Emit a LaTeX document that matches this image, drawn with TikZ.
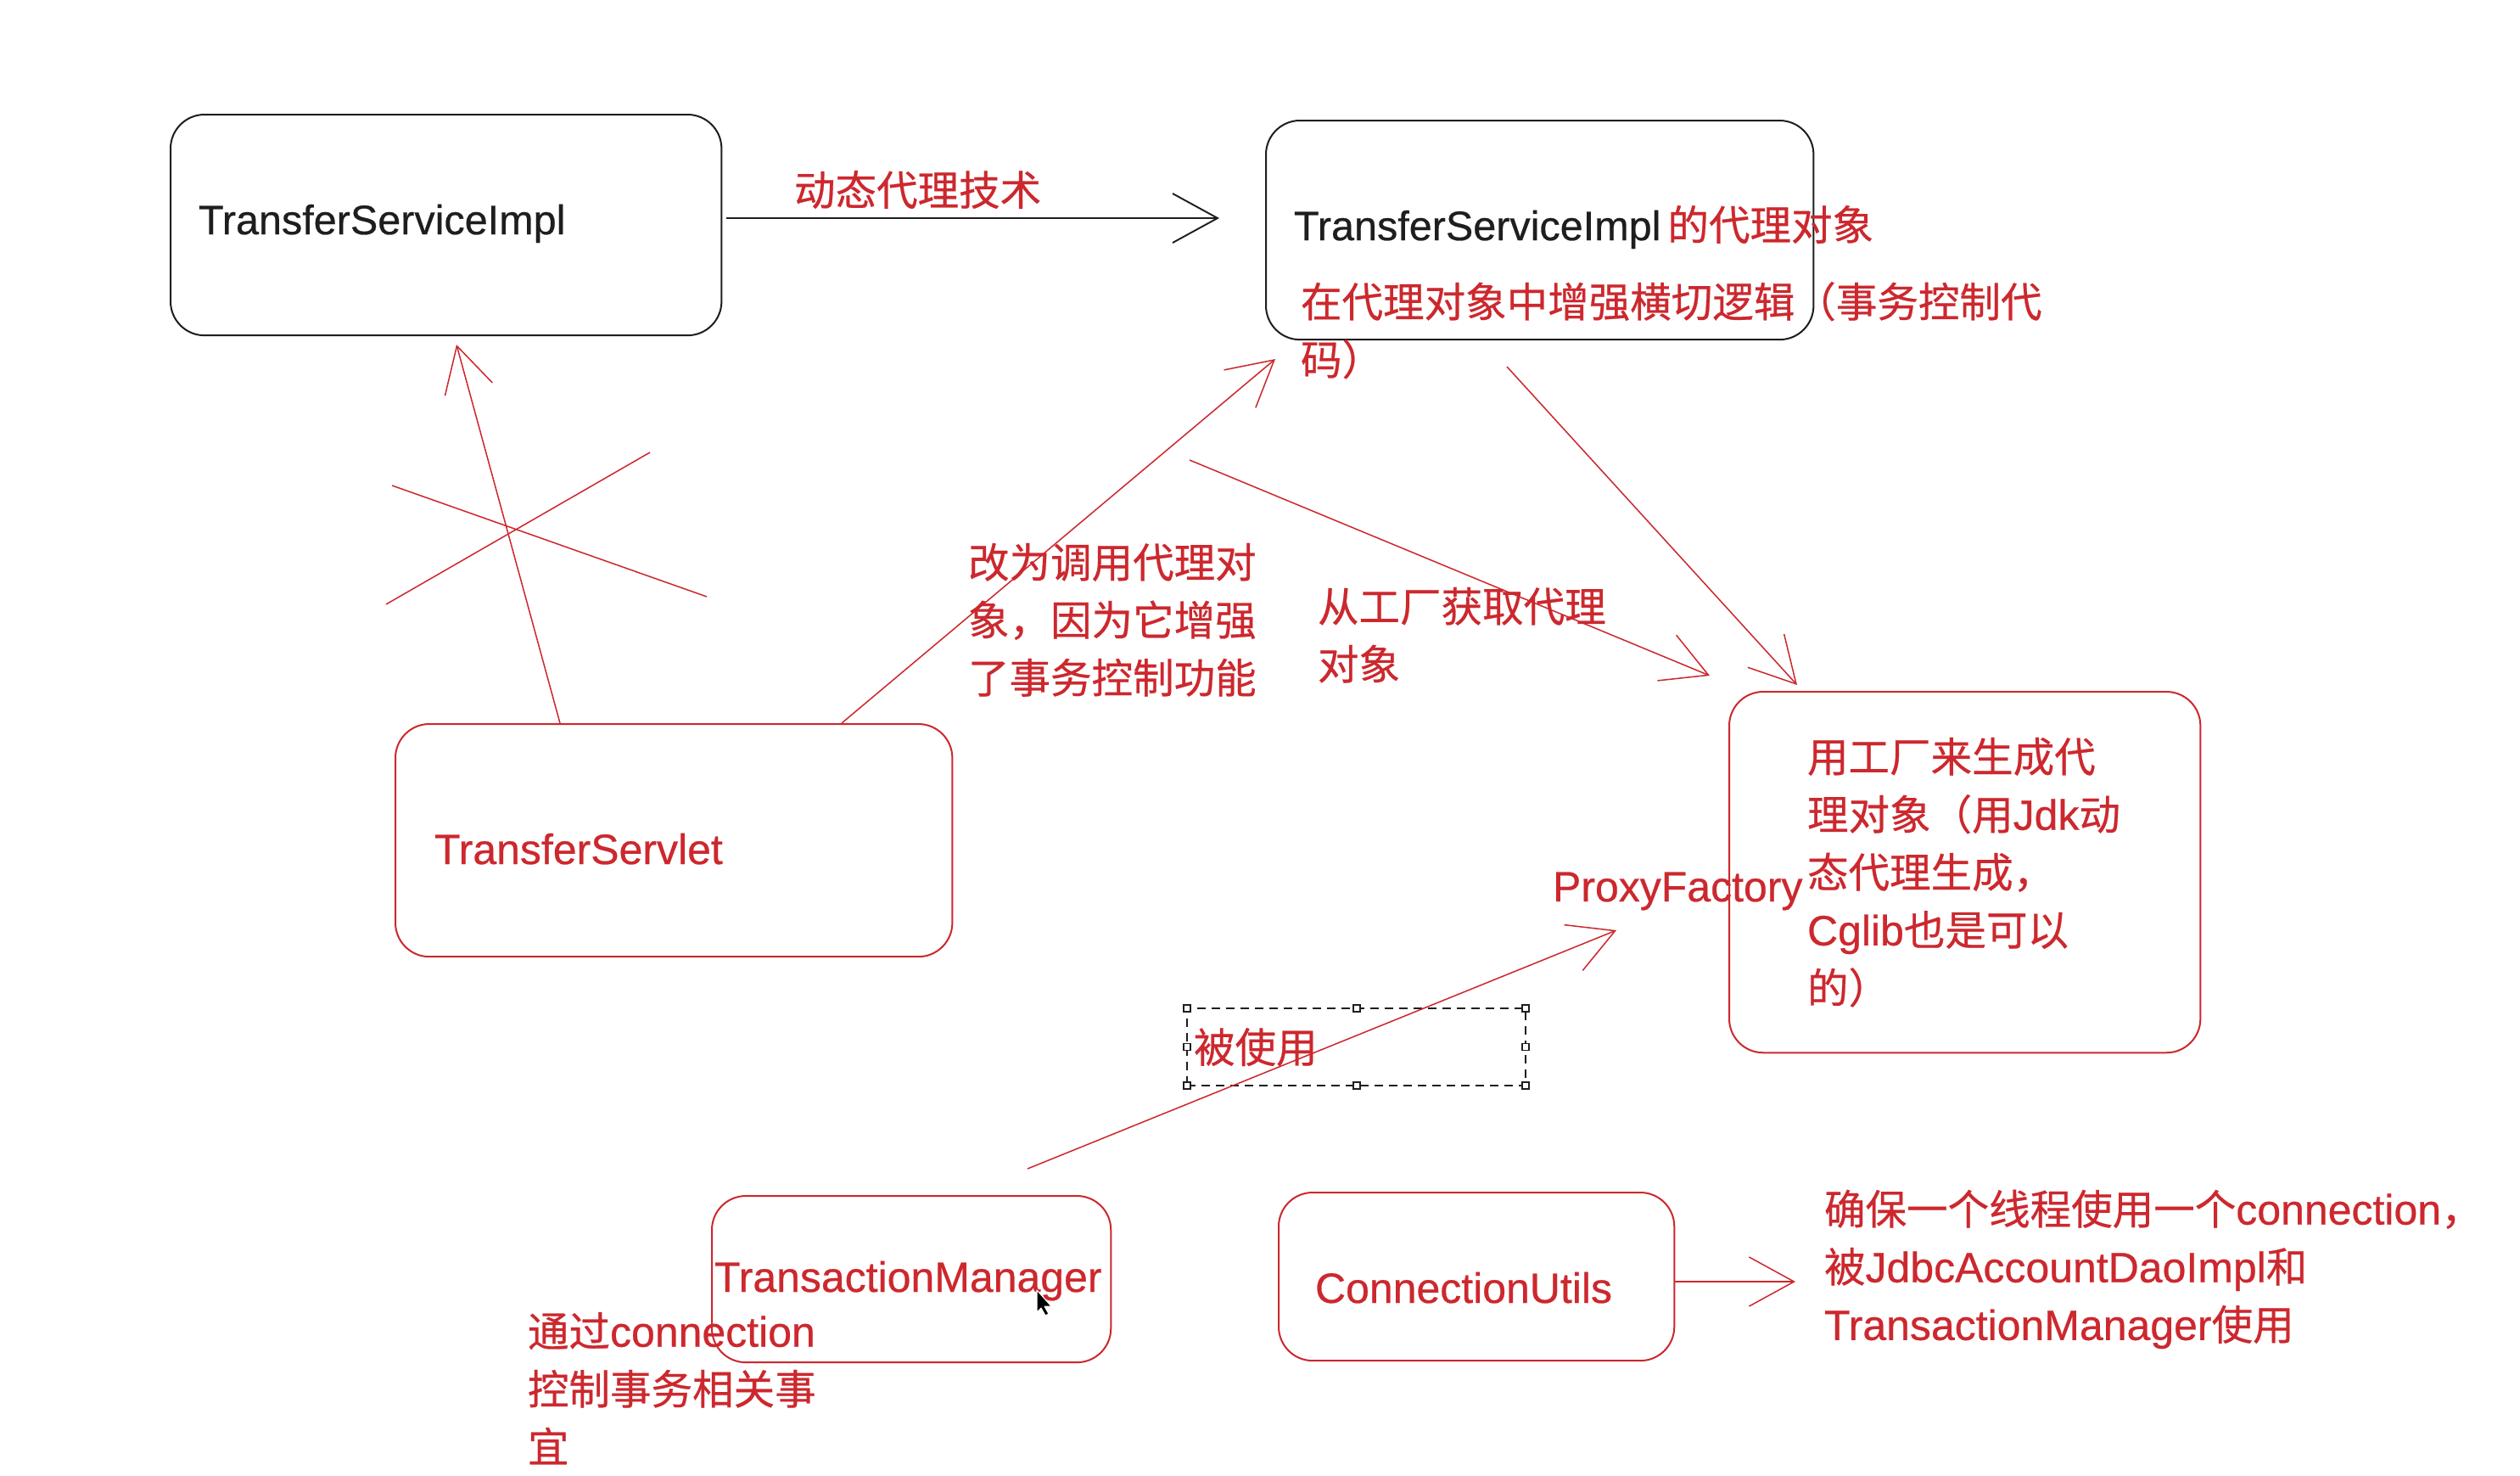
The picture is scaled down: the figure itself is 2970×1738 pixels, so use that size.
\documentclass[tikz,border=0pt]{standalone}
\usepackage{fontspec}
\setmainfont{Liberation Sans}[Scale=1.03,FakeBold=0.5]
\newfontfamily\cjk{Noto Sans CJK SC}[FakeBold=0.5]
\usetikzlibrary{arrows.meta}
\definecolor{rd}{RGB}{204,40,46}
\definecolor{bk}{RGB}{30,30,30}
\newcommand\zh[1]{{\cjk #1}}
\newcommand\narrowlat[1]{{\fontsize{13.4pt}{19.35pt}\selectfont #1}}
\newcommand\fstrut{\rule{0pt}{1.1em}}
\begin{document}
\begin{tikzpicture}[x=0.01cm,y=-0.01cm,
  box/.style={draw=rd, line width=0.57pt, rounded corners=0.4cm, inner sep=0pt, outer sep=0pt, anchor=north west},
  blackbox/.style={box, draw=bk},
  txt/.style={inner sep=0pt, outer sep=0pt, font=\fontsize{13.8pt}{19.35pt}\selectfont, text=rd, anchor=base west},
  mtxt/.style={txt, align=left, anchor=north west},
  conn/.style={draw=rd, line width=0.43pt, -{Straight Barb[length=5.3mm, width=5.8mm]}},
  dashbox/.style={draw=bk, line width=0.5pt, dash pattern=on 0.1cm off 0.07cm, inner sep=0pt, outer sep=0pt, anchor=north west},
  handle/.style={draw=bk, fill=white, line width=0.5pt, minimum size=0.08cm, inner sep=0pt},
  strike/.style={draw=rd, line width=0.43pt}]
\useasboundingbox[fill=white] (0,0) rectangle (2970,1738);

% boxes
\node[blackbox, minimum width=6.49cm, minimum height=2.60cm] (A) at (201,135) {};
\node[blackbox, minimum width=6.45cm, minimum height=2.58cm] (B) at (1492,142) {};
\node[box, minimum width=6.56cm, minimum height=2.74cm] (S) at (466,853) {};
\node[box, minimum width=5.55cm, minimum height=4.25cm] (P) at (2038,815) {};
\node[box, minimum width=4.70cm, minimum height=1.96cm] (TM) at (839,1409) {};
\node[box, minimum width=4.66cm, minimum height=1.98cm] (CU) at (1507,1405) {};
\node[dashbox, minimum width=3.99cm, minimum height=0.91cm] (used) at (1399,1188) {};
\foreach \a [count=\i] in {north west,north,north east,west,east,south west,south,south east}
  \node[handle] (h\i) at (used.\a) {};

% texts
\node[txt, text=bk] (Atxt) at (234,276) {\narrowlat{TransferServiceImpl}};
\node[txt] (dyn) at (936,242) {\zh{动态代理技术}};
\node[txt] (Btxt) at (1525,283) {{\color{bk}\narrowlat{TransferServiceImpl}}\hspace{0.08cm}\zh{的代理对象}};
\node[mtxt] (Bnote) at (1533,318.65) {\fstrut\zh{在代理对象中增强横切逻辑（事务控制代}\\\zh{码）}};
\node[mtxt] (callnote) at (1141,625.65) {\fstrut\zh{改为调用代理对}\\\zh{象，因为它增强}\\\zh{了事务控制功能}};
\node[mtxt] (getnote) at (1553,677.65) {\fstrut\zh{从工厂获取代理}\\\zh{对象}};
\node[txt] (Stxt) at (512,1018) {TransferServlet};
\node[txt] (PFtxt) at (1830,1062) {ProxyFactory};
\node[mtxt] (Pnote) at (2130,854.65) {\fstrut\zh{用工厂来生成代}\\\zh{理对象（用}Jdk\zh{动}\\\zh{态代理生成，}\\Cglib\zh{也是可以}\\\zh{的）}};
\node[txt] (usedtxt) at (1407,1252) {\zh{被使用}};
\node[txt] (TMtxt) at (842,1522) {TransactionManager};
\node[mtxt] (TMnote) at (622,1531.65) {\fstrut\zh{通过}connection\\\zh{控制事务相关事}\\\zh{宜}};
\node[txt] (CUtxt) at (1550,1535) {ConnectionUtils};
\node[mtxt] (CUnote) at (2150,1387.65) {\fstrut\zh{确保一个线程使用一个}connection\zh{，}\\\zh{被}JdbcAccountDaoImpl\zh{和}\\TransactionManager\zh{使用}};

% connector end points
\coordinate (a1) at (856,257);   \coordinate (a2) at (1437,257);
\coordinate (s1) at (660,852);   \coordinate (t1) at (538,406);
\coordinate (s2) at (992,852);   \coordinate (t2) at (1503,423);
\coordinate (s3) at (1402,542);  \coordinate (t3) at (2015,796);
\coordinate (s4) at (1776,432);  \coordinate (t4) at (2118,807);
\coordinate (s5) at (1211,1377); \coordinate (t5) at (1905,1096);
\coordinate (s6) at (1973,1510); \coordinate (t6) at (2116,1510);

\draw[conn, draw=bk, line width=0.55pt] (a1) -- (a2);
\draw[conn] (s1) -- (t1);
\draw[conn] (s2) -- (t2);
\draw[conn] (s3) -- (t3);
\draw[conn] (s4) -- (t4);
\draw[conn] (s5) -- (t5);
\draw[conn] (s6) -- (t6);

% strike-through cross
\coordinate (x1) at (462,572); \coordinate (x2) at (833,703);
\coordinate (x3) at (455,712); \coordinate (x4) at (766,533);
\draw[strike] (x1) -- (x2);
\draw[strike] (x3) -- (x4);

% mouse cursor
\draw[fill=black, draw=white, line width=0.3pt, line join=round]
  (1222,1520) -- ++(0,26) -- ++(5,-5) -- ++(5,9) -- ++(4,-2) -- ++(-5,-9) -- ++(8,0) -- cycle;
\end{tikzpicture}
\end{document}
